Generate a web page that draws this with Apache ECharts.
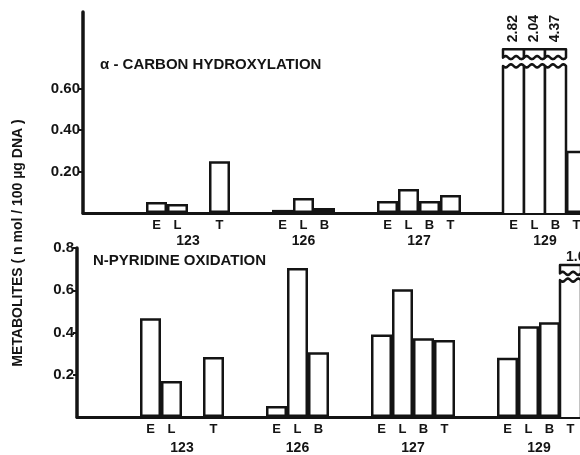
<!DOCTYPE html>
<html><head><meta charset="utf-8">
<script src="https://cdn.jsdelivr.net/npm/echarts@6/dist/echarts.min.js"></script>
<style>html,body{margin:0;padding:0;background:#fff}#c{width:580px;height:455px}</style>
</head><body><div id="c"></div>
<script>
// ---------- data ----------
const letters = ['E', 'L', 'B', 'T'];
const groups = ['123', '126', '127', '129'];
// alpha-carbon hydroxylation (nmol / 100 ug DNA): E, L, B, T
const alpha123 = [0.053, 0.043, null, 0.25];
const alpha126 = [0.015, 0.072, 0.024, null];
const alpha127 = [0.058, 0.116, 0.058, 0.087];
const alpha129 = [2.82, 2.04, 4.37, 0.30];
// N-pyridine oxidation (nmol / 100 ug DNA): E, L, B, T
const npo123 = [0.468, 0.17, null, 0.284];
const npo126 = [0.052, 0.705, 0.307, null];
const npo127 = [0.39, 0.605, 0.373, 0.364];
const npo129 = [0.28, 0.43, 0.449, 1.06];
const alphaTicks = [0.2, 0.4, 0.6];
const npoTicks = [0.2, 0.4, 0.6, 0.8];

const INK = '#141414';
const FONT = '"Liberation Sans", Arial, sans-serif';

// ---------- slot layout built from the data ----------
function buildSlots(groupValues) {
  const ids = [], labels = [], vals = [], centers = [];
  let n = 0;
  const push = (lab, v) => { ids.push('s' + n); labels.push(lab); vals.push(v); n++; };
  for (let i = 0; i < 3; i++) push('', null);
  groupValues.forEach((gv, gi) => {
    let first = -1, last = -1;
    gv.forEach((v, i) => { if (v != null) { if (first < 0) first = i; last = i; } });
    const start = n;
    for (let i = 0; i <= last; i++) push(gv[i] != null ? letters[i] : '', gv[i]);
    centers.push({ v: start + (first + last + 1) / 2, name: groups[gi] });
    push('', null); push('', null);
  });
  return { ids, labels, vals, centers };
}

const topSlots = buildSlots([alpha123, alpha126, alpha127, alpha129]);
const botSlots = buildSlots([npo123, npo126, npo127, npo129]);
const N = topSlots.ids.length;
const SLOT = 21;

// values above "limit" are drawn as broken bars
const topCfg = { limit: 0.97, breakAt: 0.71, stubFrom: 0.75, stubTo: 0.79, labelAt: 0.89, rotate: true, fmt: v => v.toFixed(2) };
const botCfg = { limit: 0.8, breakAt: 0.648, stubFrom: 0.68, stubTo: 0.72, labelAt: 0.757, rotate: false, fmt: v => v.toFixed(2) };

function barSeries(xi, yi, vals, cfg) {
  return {
    type: 'bar', xAxisIndex: xi, yAxisIndex: yi,
    data: vals.map(v => (v != null && v > cfg.limit) ? null : v),
    barCategoryGap: '0%', barGap: '0%',
    itemStyle: { color: '#fff', borderColor: INK, borderWidth: 2.5 },
    silent: true, animation: false
  };
}

function wavePts(x0, x1, y, amp) {
  const pts = [];
  const steps = 16, cycles = 2;
  for (let k = 0; k <= steps; k++) {
    const t = k / steps;
    pts.push([x0 + (x1 - x0) * t, y + amp * Math.sin(t * cycles * 2 * Math.PI)]);
  }
  return pts;
}

function brokenSeries(xi, yi, vals, cfg) {
  const data = [];
  vals.forEach((v, i) => { if (v != null && v > cfg.limit) data.push([i, v]); });
  return {
    type: 'custom', xAxisIndex: xi, yAxisIndex: yi, data, clip: false, z: 5,
    silent: true, animation: false,
    renderItem(params, api) {
      const idx = api.value(0), v = api.value(1);
      const w = api.size([1, 0])[0];
      const b = api.coord([idx, 0]);
      const pb = api.coord([idx, cfg.breakAt]);
      const s0 = api.coord([idx, cfg.stubFrom]);
      const s1 = api.coord([idx, cfg.stubTo]);
      const lp = api.coord([idx, cfg.labelAt]);
      const x0 = b[0] - w / 2, x1 = b[0] + w / 2;
      const lower = [[x0, b[1]]].concat(wavePts(x0, x1, pb[1], 1.6)).concat([[x1, b[1]]]);
      const stub = [[x0, s1[1]], [x1, s1[1]]].concat(wavePts(x1, x0, s0[1], 1.6));
      const style = { fill: '#fff', stroke: INK, lineWidth: 2.5, lineJoin: 'round' };
      const label = cfg.rotate
        ? { type: 'text', x: b[0], y: lp[1], rotation: Math.PI / 2,
            style: { text: cfg.fmt(v), fill: INK, font: 'bold 14px ' + FONT, align: 'center', verticalAlign: 'middle' } }
        : { type: 'text', x: x0 + 6, y: lp[1],
            style: { text: cfg.fmt(v), fill: INK, font: 'bold 14px ' + FONT, align: 'left', verticalAlign: 'middle' } };
      return { type: 'group', children: [
        { type: 'polyline', shape: { points: lower }, style },
        { type: 'polygon', shape: { points: stub }, style },
        label
      ] };
    }
  };
}

function catAxis(gi, slots, margin) {
  return {
    type: 'category', gridIndex: gi, data: slots.ids, boundaryGap: true,
    axisLine: { show: true, lineStyle: { color: INK, width: 3 } },
    axisTick: { show: false },
    axisLabel: { interval: 0, margin, color: INK, fontFamily: FONT, fontWeight: 'bold', fontSize: 13,
                 formatter: (v, i) => slots.labels[i] },
    splitLine: { show: false }
  };
}
function groupAxis(gi, slots, margin) {
  return {
    type: 'value', gridIndex: gi, min: 0, max: N, position: 'bottom',
    axisLine: { show: false }, axisTick: { show: false }, splitLine: { show: false },
    axisLabel: { customValues: slots.centers.map(c => c.v), margin, color: INK, fontFamily: FONT,
                 fontWeight: 'bold', fontSize: 14,
                 formatter: v => { const c = slots.centers.find(c => Math.abs(c.v - v) < 1e-6); return c ? c.name : ''; } }
  };
}
function valAxis(gi, max, ticks, fmt) {
  return {
    type: 'value', gridIndex: gi, min: 0, max, interval: 0.2,
    axisLine: { show: true, lineStyle: { color: INK, width: 3.5 } },
    axisTick: { show: true, customValues: ticks, length: 4, lineStyle: { color: INK, width: 2 } },
    axisLabel: { customValues: ticks, margin: 3, color: INK, fontFamily: FONT, fontWeight: 'bold', fontSize: 15,
                 formatter: v => ticks.some(t => Math.abs(t - v) < 1e-6) ? fmt(v) : '' },
    splitLine: { show: false }
  };
}

const chart = echarts.init(document.getElementById('c'), null, { renderer: 'canvas' });
chart.setOption({
  backgroundColor: '#fff',
  animation: false,
  grid: [
    { left: 83, top: 12, width: N * SLOT, height: 201, containLabel: false, outerBoundsMode: 'none' },
    { left: 77, top: 248, width: N * SLOT, height: 169, containLabel: false, outerBoundsMode: 'none' }
  ],
  xAxis: [catAxis(0, topSlots, 6), groupAxis(0, topSlots, 21), catAxis(1, botSlots, 6), groupAxis(1, botSlots, 24)],
  yAxis: [valAxis(0, 0.97, alphaTicks, v => v.toFixed(2)), valAxis(1, 0.8, npoTicks, v => v.toFixed(1))],
  series: [
    barSeries(0, 0, topSlots.vals, topCfg),
    brokenSeries(0, 0, topSlots.vals, topCfg),
    barSeries(2, 1, botSlots.vals, botCfg),
    brokenSeries(2, 1, botSlots.vals, botCfg)
  ],
  graphic: [
    { type: 'text', left: 100, top: 57, style: { text: 'α - CARBON HYDROXYLATION', fill: INK, font: 'bold 15px ' + FONT } },
    { type: 'text', left: 93, top: 253, style: { text: 'N-PYRIDINE OXIDATION', fill: INK, font: 'bold 15px ' + FONT } },
    { type: 'text', x: 18, y: 243, rotation: Math.PI / 2,
      style: { text: 'METABOLITES ( n mol / 100 µg DNA )', fill: INK, font: 'bold 14px ' + FONT, align: 'center', verticalAlign: 'middle' } }
  ]
});
</script>
</body></html>
